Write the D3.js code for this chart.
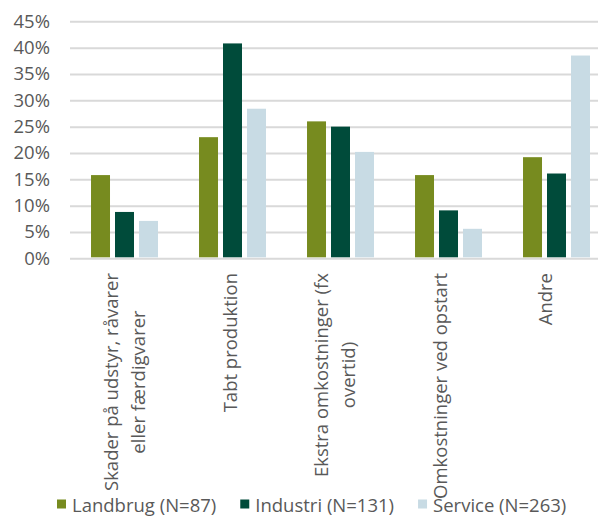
<!DOCTYPE html>
<html>
<head>
<meta charset="utf-8">
<script src="https://cdn.jsdelivr.net/npm/d3@7/dist/d3.min.js"></script>
<style>
  html, body { margin: 0; padding: 0; background: #fff; }
  svg { display: block; }
  text { font-family: "Open Sans", sans-serif; fill: #595959; }
</style>
</head>
<body>
<svg id="chart" width="598" height="517"></svg>
<script>
// Categories (multi-line labels split by "\n")
const categories = [
  "Skader på udstyr, råvarer\neller færdigvarer",
  "Tabt produktion",
  "Ekstra omkostninger (fx\novertid)",
  "Omkostninger ved opstart",
  "Andre"
];

// Share of respondents, in percent
const landbrug = [15.8, 23.0, 26.0, 15.8, 19.2];
const industri = [8.8, 40.8, 25.0, 9.1, 16.1];
const service  = [7.1, 28.4, 20.2, 5.6, 38.5];

const seriesNames  = ["Landbrug (N=87)", "Industri (N=131)", "Service (N=263)"];
const seriesColors = ["#778b1f", "#004b3a", "#c8dbe4"];

const yTicks = [0, 5, 10, 15, 20, 25, 30, 35, 40, 45];

const W = 598, H = 517;
const plotLeft = 70, plotRight = 610.5, plotTop = 21.3, plotBottom = 258.3;
const fontSize = 18.5;

const svg = d3.select("#chart");

const values = [landbrug, industri, service];
const rows = categories.map((c, i) => ({
  cat: c,
  vals: seriesNames.map((s, j) => ({ key: s, value: values[j][i], color: seriesColors[j] }))
}));

const x = d3.scaleBand()
  .domain(categories)
  .range([plotLeft + 0.5, plotRight])
  .paddingInner(0.38)
  .paddingOuter(0.19);

const x1 = d3.scaleBand()
  .domain(seriesNames)
  .range([0, x.bandwidth()])
  .paddingInner(5 / 24);

const y = d3.scaleLinear()
  .domain([0, 45])
  .range([plotBottom, plotTop]);

// Gridlines and y tick labels
const yAxis = d3.axisLeft(y)
  .tickValues(yTicks)
  .tickFormat(d => d + "%")
  .tickSize(-(W - plotLeft))
  .tickPadding(20);

const gy = svg.append("g")
  .attr("transform", `translate(${plotLeft},0)`)
  .call(yAxis);
gy.select(".domain").remove();
gy.selectAll(".tick line").attr("stroke", "#d9d9d9").attr("stroke-width", 2);
gy.selectAll(".tick text")
  .attr("font-size", fontSize)
  .attr("fill", "#595959")
  .attr("font-family", "'Open Sans', sans-serif");

// Bars
const groups = svg.append("g").selectAll("g")
  .data(rows)
  .join("g")
  .attr("transform", d => `translate(${x(d.cat)},0)`);

groups.selectAll("rect")
  .data(d => d.vals)
  .join("rect")
  .attr("x", d => x1(d.key))
  .attr("width", x1.bandwidth())
  .attr("y", d => y(d.value))
  .attr("height", d => y(0) - 1 - y(d.value))
  .attr("fill", d => d.color);

// Category labels, rotated, anchored below the axis
const labelPos = d3.scalePoint()
  .domain(categories)
  .range([124.5, 545]);

const xAxis = d3.axisBottom(labelPos).tickSize(0).tickFormat("");
const gx = svg.append("g")
  .attr("transform", `translate(0,${plotBottom})`)
  .call(xAxis);
gx.select(".domain").remove();

const labelTop = 273 - plotBottom;
const lineH = 26.6;

gx.selectAll(".tick").each(function (cat) {
  const lines = cat.split("\n");
  const g = d3.select(this).append("g")
    .attr("transform", `translate(0,${labelTop}) rotate(-90)`);
  const t = g.selectAll("text")
    .data(lines)
    .join("text")
    .attr("font-size", fontSize)
    .attr("fill", "#595959")
    .attr("text-anchor", "middle")
    .attr("dy", "0.35em")
    .attr("y", (d, i) => (i - (lines.length - 1) / 2) * lineH)
    .text(d => d);
  let maxLen = 0;
  t.each(function () { maxLen = Math.max(maxLen, this.getComputedTextLength()); });
  t.attr("x", -maxLen / 2);
});

// Legend
const legend = svg.append("g").attr("transform", "translate(57,0)");
let lx = 0;
seriesNames.forEach((name, i) => {
  const item = legend.append("g").attr("transform", `translate(${lx},0)`);
  item.append("rect")
    .attr("x", 0).attr("y", 499.5)
    .attr("width", 9).attr("height", 9)
    .attr("fill", seriesColors[i]);
  const txt = item.append("text")
    .attr("x", 15)
    .attr("y", 512)
    .attr("font-size", fontSize)
    .attr("fill", "#595959")
    .text(name);
  lx += 15 + txt.node().getComputedTextLength() + 24;
});
</script>
</body>
</html>
